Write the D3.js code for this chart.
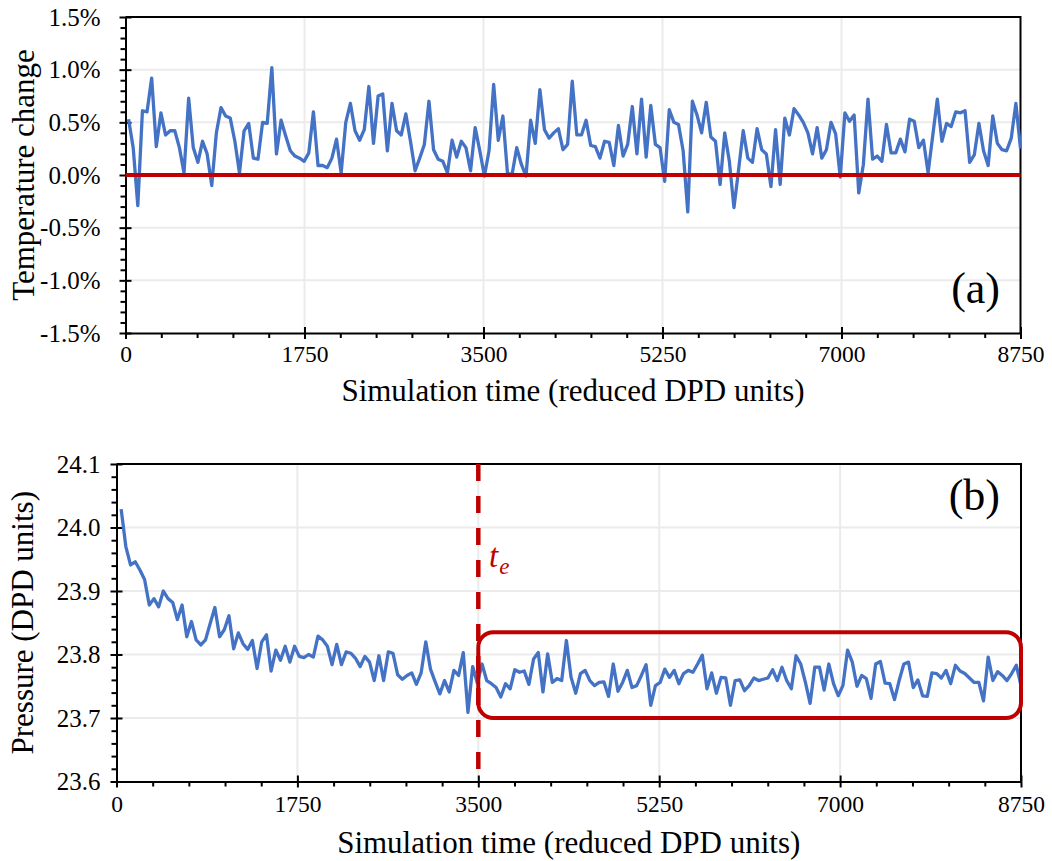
<!DOCTYPE html>
<html><head><meta charset="utf-8">
<script src="https://cdn.jsdelivr.net/npm/d3@7"></script>
<style>
body{margin:0;background:#fff}
text{font-family:"Liberation Serif","Times New Roman",serif;fill:#000}
</style>
</head><body>
<svg id="c" width="1052" height="861"></svg>
<script>
// ---------------- data ----------------
const xTickValues = [0, 1750, 3500, 5250, 7000, 8750];
const tempTickValues = [-1.5, -1.0, -0.5, 0.0, 0.5, 1.0, 1.5];
const pressTickValues = [23.6, 23.7, 23.8, 23.9, 24.0, 24.1];
const tempTimeStart = 30, pressTimeStart = 45, timeEnd = 8750;
const xTitle = "Simulation time (reduced DPD units)";
const tempTitle = "Temperature change";
const pressTitle = "Pressure (DPD units)";
const referenceLevel = 0.0;        // red line in (a)
const equilibrationTime = 3500;    // t_e
const windowTimes = [3500, 8750];
const windowPressures = [23.700, 23.835];

// temperature change, percent
const tempValues = [
0.53,0.26,-0.29,0.61,0.60,0.92,0.27,0.59,0.38,0.42,
0.42,0.26,0.02,0.73,0.26,0.12,0.32,0.20,-0.10,0.40,
0.64,0.56,0.54,0.32,0.02,0.42,0.49,0.16,0.15,0.50,
0.49,1.02,0.20,0.52,0.37,0.23,0.18,0.16,0.13,0.21,
0.60,0.09,0.09,0.07,0.16,0.34,0.02,0.50,0.68,0.42,
0.33,0.43,0.84,0.30,0.75,0.77,0.23,0.68,0.42,0.38,
0.58,0.32,0.04,0.16,0.29,0.70,
0.24,0.15,0.13,0.02,0.33,0.17,0.32,0.26,0.04,0.45,
0.23,-0.01,0.23,0.86,0.33,0.56,0.01,0.01,0.26,0.10,
-0.01,0.52,0.30,0.81,0.43,0.35,0.40,0.44,0.24,0.29,
0.89,0.38,0.38,0.52,0.28,0.27,0.16,0.32,0.31,0.09,
0.47,0.18,0.29,0.65,0.20,0.72,0.17,0.66,0.29,0.26,
-0.06,0.62,0.50,0.48,0.23,-0.35,0.70,0.57,0.40,0.69,
0.36,0.32,-0.09,0.40,
0.13,-0.31,0.05,0.42,0.16,0.12,0.44,0.24,0.20,-0.11,
0.43,-0.09,0.54,0.38,0.63,0.57,0.50,0.40,0.20,0.45,
0.16,0.24,0.50,0.39,-0.02,0.59,0.51,0.57,-0.17,0.10,
0.72,0.15,0.18,0.13,0.48,0.21,0.21,0.34,0.22,0.53,
0.51,0.26,0.33,0.02,0.37,0.72,0.32,0.49,0.46,0.60,
0.59,0.61,0.12,0.19,0.49,0.23,0.09,0.56,0.30,0.24,
0.23,0.35,0.68,0.25
];

// pressure, DPD units
const pressureValues = [
24.029,23.970,23.941,23.946,23.933,23.918,23.878,23.888,23.875,23.900,
23.888,23.882,23.855,23.878,23.828,23.852,23.823,23.815,23.823,23.849,
23.874,23.828,23.839,23.861,23.809,23.834,23.817,23.808,23.822,23.778,
23.820,23.831,23.774,23.807,23.791,23.813,23.788,23.813,23.797,23.795,
23.800,23.796,23.829,23.823,23.813,23.784,23.816,23.784,23.804,23.802,
23.794,23.781,23.797,23.788,23.759,23.798,23.759,23.804,23.802,23.768,
23.761,23.767,23.771,23.753,23.771,23.820,23.777,23.757,23.738,23.759,
23.741,23.775,23.767,23.803,23.709,23.781,23.755,
23.785,23.759,23.754,23.748,23.733,23.754,23.746,23.776,23.772,23.774,
23.753,23.793,23.803,23.741,23.801,23.756,23.762,23.759,23.822,23.764,
23.739,23.770,23.775,23.759,23.751,23.756,23.757,23.734,23.785,23.742,
23.756,23.775,23.748,23.751,23.767,23.784,23.720,23.751,23.756,23.777,
23.764,23.775,23.754,23.770,23.775,23.772,23.785,23.799,23.746,23.771,
23.739,23.764,23.763,23.720,23.759,23.760,23.743,
23.751,23.763,23.759,23.761,23.763,23.776,23.759,23.780,23.759,23.746,
23.798,23.785,23.756,23.723,23.780,23.780,23.744,23.785,23.754,23.735,
23.751,23.807,23.788,23.750,23.767,23.762,23.731,23.785,23.789,23.755,
23.754,23.729,23.759,23.785,23.788,23.748,23.760,23.735,23.734,23.771,
23.770,23.763,23.775,23.754,23.783,23.774,23.770,23.763,23.756,23.756,
23.727,23.796,23.759,23.773,23.767,23.759,23.770,23.783,23.751
];

// ---------------- drawing ----------------
const BLUE = "#4472C4", RED = "#C00000", GRID = "#EBEBEB";
const SERIF = '"Liberation Serif","Times New Roman","DejaVu Serif",serif';
const svg = d3.select("#c");

function sampleTimes(n, start){
  const step = (timeEnd - start) / (n - 1);
  return d3.range(n).map(i => start + i * step);
}

function drawPanel(cfg){
  const g = svg.append("g");
  const x = d3.scaleLinear().domain([0, 8750]).range([cfg.left, cfg.right]);
  const y = d3.scaleLinear().domain([cfg.yTicks[0], cfg.yTicks[cfg.yTicks.length-1]]).range([cfg.bottom, cfg.top]);

  // grid
  g.append("g").selectAll("line").data(xTickValues.slice(1, -1)).join("line")
    .attr("x1", d => x(d)).attr("x2", d => x(d)).attr("y1", cfg.top).attr("y2", cfg.bottom)
    .attr("stroke", GRID).attr("stroke-width", 2);
  g.append("g").selectAll("line").data(cfg.yTicks.slice(1, -1)).join("line")
    .attr("x1", cfg.left).attr("x2", cfg.right).attr("y1", d => y(d)).attr("y2", d => y(d))
    .attr("stroke", GRID).attr("stroke-width", 2);

  // frame: top and right
  g.append("path").attr("d", `M${cfg.left},${cfg.top}H${cfg.right}V${cfg.bottom}`)
    .attr("fill", "none").attr("stroke", "#000").attr("stroke-width", 2);

  // x axis
  const xMinor = d3.range(0, 8750 + 1, 350).filter(v => !xTickValues.includes(v));
  const xa = g.append("g").attr("transform", `translate(0,${cfg.bottom})`)
    .call(d3.axisBottom(x).tickValues(xTickValues).tickSize(6).tickSizeOuter(0)
      .tickPadding(cfg.xPad).tickFormat(d3.format("d")));
  g.append("g").attr("transform", `translate(0,${cfg.bottom})`)
    .call(d3.axisTop(x).tickValues(xTickValues).tickSize(6).tickFormat(""))
    .call(s => s.select(".domain").remove());
  g.append("g").attr("transform", `translate(0,${cfg.bottom})`)
    .call(d3.axisBottom(x).tickValues(xMinor).tickSize(5).tickFormat(""))
    .call(s => s.select(".domain").remove());

  // y axis
  const ya = g.append("g").attr("transform", `translate(${cfg.left},0)`)
    .call(d3.axisLeft(y).tickValues(cfg.yTicks).tickSize(6).tickSizeOuter(0)
      .tickPadding(cfg.yPad).tickFormat(cfg.yFormat));
  g.append("g").attr("transform", `translate(${cfg.left},0)`)
    .call(d3.axisRight(y).tickValues(cfg.yTicks).tickSize(6).tickFormat(""))
    .call(s => s.select(".domain").remove());
  g.append("g").attr("transform", `translate(${cfg.left},0)`)
    .call(d3.axisLeft(y).tickValues(cfg.yMinor).tickSize(5).tickFormat(""))
    .call(s => s.select(".domain").remove());

  g.selectAll(".domain").attr("stroke", "#000").attr("stroke-width", 2);
  g.selectAll(".tick line").attr("stroke", "#000").attr("stroke-width", 2);
  xa.selectAll(".tick text")
    .style("font-family", SERIF).style("font-size", "23.5px").style("fill", "#000");
  ya.selectAll(".tick text")
    .style("font-family", SERIF).style("font-size", "25px").style("fill", "#000");

  // axis titles
  g.append("text").attr("x", (cfg.left + cfg.right) / 2).attr("y", cfg.xTitleY)
    .attr("text-anchor", "middle").style("font-family", SERIF).style("font-size", "31px").text(xTitle);
  g.append("text").attr("transform", `translate(${cfg.yTitleX},${(cfg.top + cfg.bottom) / 2}) rotate(-90)`)
    .attr("text-anchor", "middle").style("font-family", SERIF).style("font-size", "31px").text(cfg.yTitle);

  return {g, x, y};
}

// ---- panel (a)
const yMinorA = d3.range(-15, 16).map(v => v / 10).filter(v => Math.abs(v * 2 - Math.round(v * 2)) > 1e-6);
const A = drawPanel({
  left: 125.5, right: 1020.5, top: 17, bottom: 333,
  yTicks: tempTickValues, yMinor: yMinorA,
  yFormat: d => d.toFixed(1) + "%", xPad: 6, yPad: 19,
  xTitleY: 401, yTitleX: 34, yTitle: tempTitle
});
const tempTimes = sampleTimes(tempValues.length, tempTimeStart);
A.g.append("path").datum(tempValues)
  .attr("d", d3.line().x((d, i) => A.x(tempTimes[i])).y(d => A.y(d)))
  .attr("fill", "none").attr("stroke", BLUE).attr("stroke-width", 3.3).attr("stroke-linejoin", "round");
A.g.append("line").attr("x1", A.x(0)).attr("x2", A.x(8750))
  .attr("y1", A.y(referenceLevel)).attr("y2", A.y(referenceLevel))
  .attr("stroke", RED).attr("stroke-width", 4);
A.g.append("text").attr("x", 1000).attr("y", 303).attr("text-anchor", "end")
  .style("font-family", SERIF).style("font-size", "44px").text("(a)");

// ---- panel (b)
const yMinorB = d3.range(0, 26).map(v => +(23.6 + v * 0.02).toFixed(2)).filter(v => !pressTickValues.includes(v));
const B = drawPanel({
  left: 116.5, right: 1021, top: 464, bottom: 781.5,
  yTicks: pressTickValues, yMinor: yMinorB,
  yFormat: d3.format(".1f"), xPad: 8, yPad: 10,
  xTitleY: 853, yTitleX: 33, yTitle: pressTitle
});
const pressTimes = sampleTimes(pressureValues.length, pressTimeStart);
B.g.append("path").datum(pressureValues)
  .attr("d", d3.line().x((d, i) => B.x(pressTimes[i])).y(d => B.y(d)))
  .attr("fill", "none").attr("stroke", BLUE).attr("stroke-width", 3.3).attr("stroke-linejoin", "round");
B.g.append("rect")
  .attr("x", B.x(windowTimes[0])).attr("width", B.x(windowTimes[1]) - B.x(windowTimes[0]))
  .attr("y", B.y(windowPressures[1])).attr("height", B.y(windowPressures[0]) - B.y(windowPressures[1]))
  .attr("rx", 15).attr("ry", 15)
  .attr("fill", "none").attr("stroke", RED).attr("stroke-width", 4);
B.g.append("line").attr("x1", B.x(equilibrationTime)).attr("x2", B.x(equilibrationTime))
  .attr("y1", B.y(24.1)).attr("y2", B.y(23.6))
  .attr("stroke", RED).attr("stroke-width", 4.5).attr("stroke-dasharray", "17,15");
const te = B.g.append("text").attr("x", 489).attr("y", 567)
  .style("font-family", SERIF).style("font-size", "33px").style("font-style", "italic").style("fill", RED);
te.append("tspan").text("t");
te.append("tspan").attr("dy", 7).attr("dx", 1).style("font-size", "23px").text("e");
B.g.append("text").attr("x", 1000).attr("y", 510).attr("text-anchor", "end")
  .style("font-family", SERIF).style("font-size", "44px").text("(b)");
</script>
</body></html>
